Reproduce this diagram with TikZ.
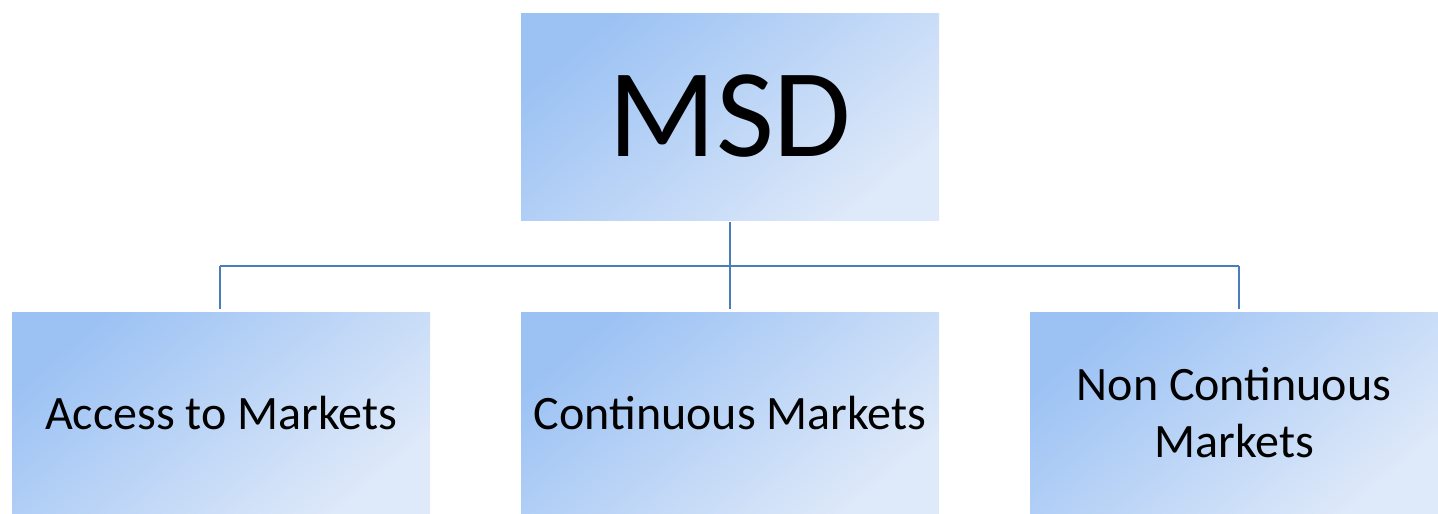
\documentclass[tikz,border=0pt]{standalone}
\usepackage{fontspec}
\setmainfont{Carlito}
\definecolor{boxdark}{HTML}{9CC2F4}
\definecolor{boxlight}{HTML}{DEE9F9}
\definecolor{linkblue}{HTML}{4A7EBB}
\tikzset{
  orgbox/.style={rectangle, inner sep=0pt, shading=axis, top color=boxdark, bottom color=boxlight, shading angle=40, align=center, text=black},
  topbox/.style={orgbox, minimum width=418pt, minimum height=207pt, font=\fontsize{126}{130}\selectfont},
  subbox/.style={orgbox, minimum width=418pt, minimum height=202pt, font=\fontsize{48}{55}\selectfont},
  link/.style={draw=linkblue, line width=2.8pt}
}
\begin{document}
\begin{tikzpicture}[x=1pt,y=-1pt]
\useasboundingbox (0,0) rectangle (1438,514);
\node[topbox] (msd) at (730,116.5) {MSD};
\node[subbox, minimum width=418pt] (atm) at (221,413) {Access to Markets};
\node[subbox] (cm) at (730,413) {Continuous Markets};
\node[subbox, minimum width=408pt] (ncm) at (1234,413) {Non Continuous\\[2pt]Markets};
\coordinate (hub) at (730,266);
\coordinate (hl) at (220,266);
\coordinate (hr) at (1239,266);
\draw[link] ([yshift=-2pt]msd.south) -- (hub);
\draw[link] (hl) -- (hr);
\draw[link] (hl) -- ([yshift=3pt]hl |- atm.north);
\draw[link] (hub) -- ([yshift=3pt]cm.north);
\draw[link] (hr) -- ([yshift=3pt]hr |- ncm.north);
\end{tikzpicture}
\end{document}
